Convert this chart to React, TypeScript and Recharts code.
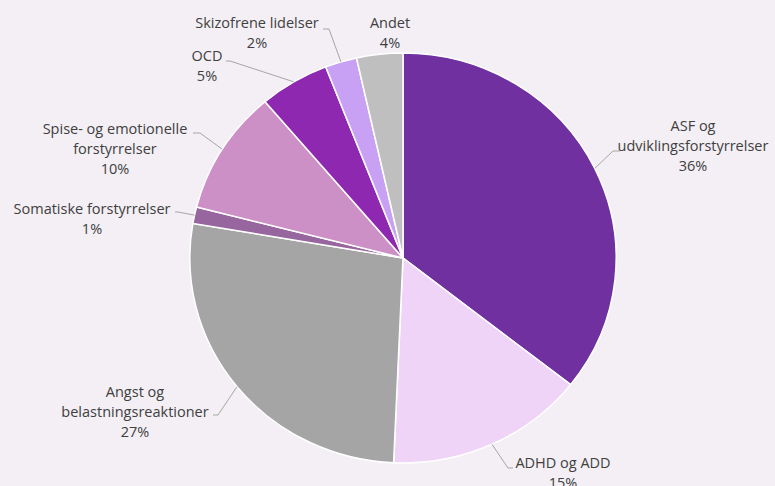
import { PieChart, Pie, Cell, Sector } from "recharts";

// shares of referrals by diagnosis group, clockwise from 12 o'clock
const categories = [
  "ASF og\nudviklingsforstyrrelser",
  "ADHD og ADD",
  "Angst og\nbelastningsreaktioner",
  "Somatiske forstyrrelser",
  "Spise- og emotionelle\nforstyrrelser",
  "OCD",
  "Skizofrene lidelser",
  "Andet",
];
const shares = [35.6, 15.1, 27.0, 1.3, 9.8, 5.3, 2.4, 3.5];

const COLORS = ["#7030a0", "#f0d4f8", "#a5a5a5", "#98669e", "#cc90c7", "#8f28b0", "#c9a1f4", "#bfbfbf"];

// label placement relative to pie centre (Excel-style best fit)
const LABELS = [
  { x: 290, y: -133, line: [[210, -107], [217, -107]] },
  { x: 160, y: 204, line: [[105, 210], [110, 210]] },
  { x: -268, y: 133, line: [[-185, 157], [-190, 157]] },
  { x: -311, y: -50, line: [[-225, -46], [-228, -46]] },
  { x: -288, y: -130, line: [[-203, -125], [-210, -125]] },
  { x: -196, y: -203, line: [[-173, -197], [-177, -197]] },
  { x: -146, y: -236, line: [[-74, -229], [-80, -229]] },
  { x: -13, y: -236, line: null },
];

const R = 205;
const SX = 1.04; // picture is slightly wider than tall

const data = categories.map((name, i) => ({ name, value: shares[i] }));

const EllipseSector = (props: any) => {
  const { cx, cy } = props;
  return (
    <g transform={`translate(${cx} ${cy}) scale(${SX} 1) translate(${-cx} ${-cy})`}>
      <Sector {...props} />
    </g>
  );
};

const renderLabel = (props: any) => {
  const { cx, cy, midAngle, index, percent, name } = props;
  const spot = LABELS[index];
  const rad = (midAngle * Math.PI) / 180;
  const sx = cx + R * SX * Math.cos(rad);
  const sy = cy - R * Math.sin(rad);
  const lines = [...String(name).split("\n"), `${Math.round(percent * 100)}%`];
  return (
    <g key={`lbl-${index}`}>
      {spot.line && (
        <polyline
          points={[[sx, sy], ...spot.line.map(([px, py]) => [cx + px, cy + py])]
            .map((p) => p.join(","))
            .join(" ")}
          fill="none"
          stroke="#a6a6a6"
          strokeWidth={1}
        />
      )}
      {lines.map((t, k) => (
        <text
          key={k}
          x={cx + spot.x}
          y={cy + spot.y + k * 20}
          textAnchor="middle"
          dominantBaseline="central"
          fill="#404040"
          fontSize={14.5}
          fontFamily="'Open Sans', Lato, sans-serif"
        >
          {t}
        </text>
      ))}
    </g>
  );
};

export default function App() {
  return (
    <div style={{ position: "absolute", left: 0, top: 0, width: 775, height: 486, background: "#f3eff5" }}>
      <PieChart width={775} height={486} margin={{ top: 0, right: 0, bottom: 0, left: 0 }}>
        <Pie
          data={data}
          dataKey="value"
          nameKey="name"
          cx={403}
          cy={258}
          outerRadius={R}
          startAngle={90}
          endAngle={-270}
          stroke="#ffffff"
          strokeWidth={1.5}
          shape={EllipseSector}
          label={renderLabel}
          labelLine={false}
          isAnimationActive={false}
        >
          {data.map((d, i) => (
            <Cell key={d.name} fill={COLORS[i]} />
          ))}
        </Pie>
      </PieChart>
    </div>
  );
}
